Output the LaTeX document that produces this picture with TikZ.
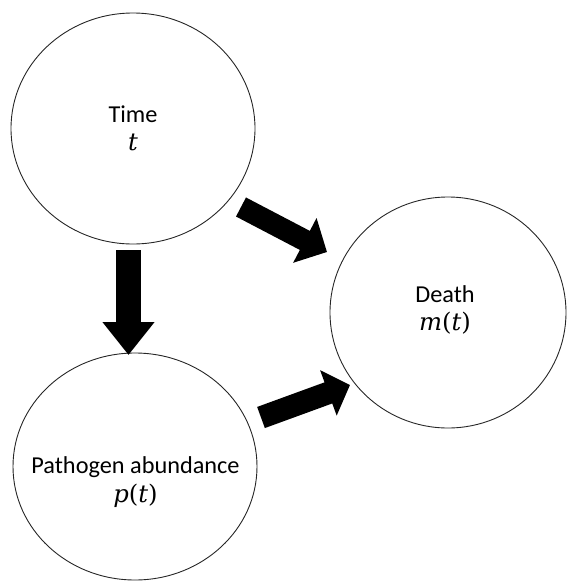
\documentclass[tikz,border=0pt]{standalone}
\usepackage{fontspec}
\setmainfont{Carlito}
\newfontfamily\mathlikefont{DejaVu Serif}
\newcommand\mvar[1]{{\mathlikefont\itshape #1\/}}
\newcommand\mpar[1]{{\mathlikefont #1}}
\usetikzlibrary{shapes.geometric,arrows.meta}
\begin{document}
\begin{tikzpicture}[x=1pt,y=-1pt,
  bubble/.style={draw=black!85, line width=0.9pt, ellipse, inner sep=0pt},
  lbl/.style={align=center, font=\fontsize{24.3}{28.5}\selectfont, inner sep=0pt},
  fatarrow/.style={draw=black, line width=#1}]
\useasboundingbox (0,0) rectangle (566,582);
% circles
\node[bubble, minimum width=244pt, minimum height=231pt] (time) at (133,128.5) {};
\node[bubble, minimum width=236pt, minimum height=231pt] (death) at (448,312.5) {};
\node[bubble, minimum width=244pt, minimum height=227pt] (path) at (135,466.5) {};
% labels
\node[lbl] (timelbl) at (133,128.5) {Time\\\mvar{t}};
\node[lbl] (deathlbl) at (445,310) {Death\\\mvar{m}\mpar{(}\mvar{t}\mpar{)}};
\node[lbl] (pathlbl) at (135.5,482) {Pathogen abundance\\\mvar{p}\mpar{(}\mvar{t}\mpar{)}};
% arrow end points
\coordinate (a0s) at (128.5,250);
\coordinate (a0e) at (128.5,355);
\coordinate (a1s) at (241,207);
\coordinate (a1e) at (327,252);
\coordinate (a2s) at (261,417.5);
\coordinate (a2e) at (350,385);
% arrows
\draw[fatarrow=25pt, -{Triangle[length=33pt,width=50pt]}] (a0s) -- (a0e);
\draw[fatarrow=21.5pt, -{Triangle[length=25pt,width=49pt]}] (a1s) -- (a1e);
\draw[fatarrow=22.5pt, -{Triangle[length=23pt,width=47pt]}] (a2s) -- (a2e);
\end{tikzpicture}
\end{document}
